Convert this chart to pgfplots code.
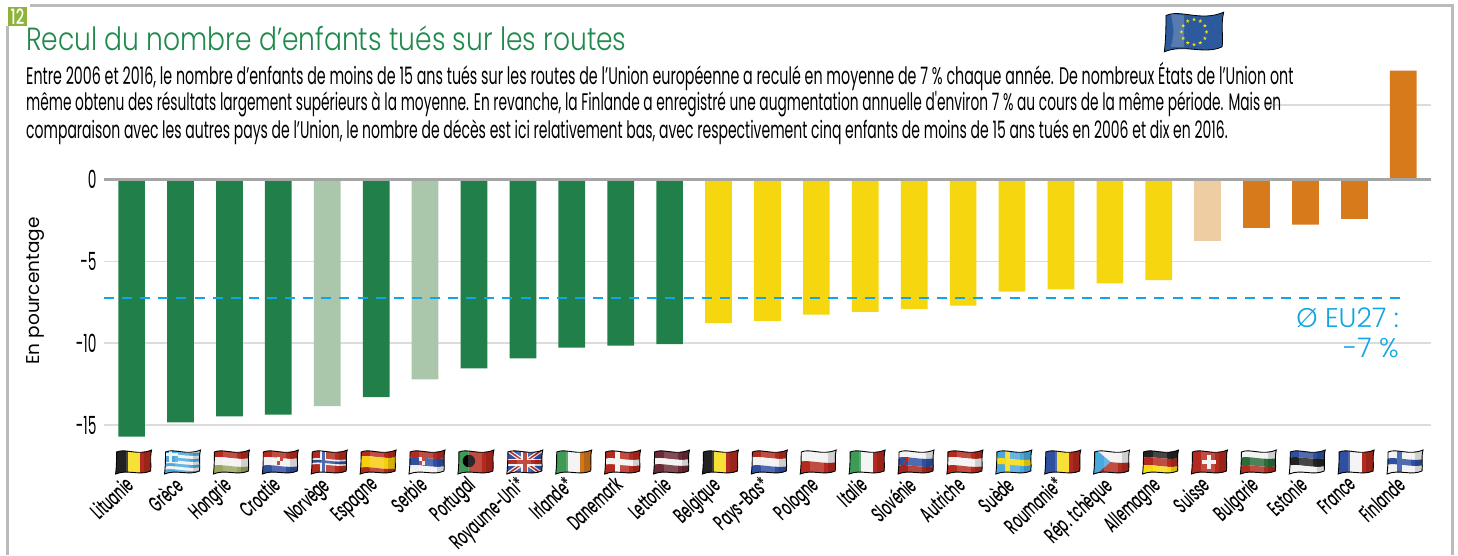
\documentclass[border=0pt]{standalone}
\usepackage{graphicx}
\usepackage{pgfplots}
\pgfplotsset{compat=1.18}
\usepackage{fontspec}
\usetikzlibrary{shapes.geometric}
\setmainfont{Poppins}
\newfontfamily\titlef[FakeStretch=0.83]{Poppins Light}
\newfontfamily\bodyf[FakeStretch=0.55]{Poppins}
\newfontfamily\lightf{Poppins Light}
\newfontfamily\ylf{Poppins}
\newfontfamily\labf{Poppins Medium}
\newcommand\lab[1]{\scalebox{.56}[1]{#1}}
\definecolor{cG}{HTML}{21804A}
\definecolor{cLG}{HTML}{ABC7AB}
\definecolor{cY}{HTML}{F6D60F}
\definecolor{cLO}{HTML}{EFCDA3}
\definecolor{cO}{HTML}{D67A1C}
\definecolor{cBl}{HTML}{12A5E3}
\definecolor{cGrid}{HTML}{DCDCDC}
\definecolor{cZero}{HTML}{A5A5A5}
\definecolor{cTitle}{HTML}{1F8A4C}
\definecolor{cBadge}{HTML}{8DB33B}
\definecolor{cEU}{HTML}{2C5A9C}
\definecolor{fR}{HTML}{B42A1E}
\definecolor{fDR}{HTML}{6B2A35}
\definecolor{fB}{HTML}{2F4FA0}
\definecolor{fLB}{HTML}{4AA8DE}
\definecolor{fY}{HTML}{F7DC10}
\definecolor{fGn}{HTML}{3E9A55}
\definecolor{fOl}{HTML}{9BA55C}
\definecolor{fOr}{HTML}{D0761C}
\definecolor{fW}{HTML}{F2F2F2}
\definecolor{fK}{HTML}{222222}
\def\fp{(-18,-12) .. controls (-17,-4) and (-17,4) .. (-17,10) .. controls (-8,14) and (4,6) .. (18,12) .. controls (16,4) and (18,-3) .. (17,-9) .. controls (6,-14) and (-6,-7) .. (-18,-12) -- cycle}
\newcommand\hb[3]{\fill[#1] (-20,{#3}) .. controls (-8,{#3+3}) and (4,{#3-3}) .. (20,{#3}) -- (20,{#2}) .. controls (4,{#2-3}) and (-8,{#2+3}) .. (-20,{#2}) -- cycle;}
\newcommand\vb[3]{\fill[#1] ({#2},-16) rectangle ({#3},16);}
\newcommand\flagn[2]{\begin{scope}[shift={({133.6+48.9*#1},93)}]
  \begin{scope}\clip \fp; #2
    \fill[white,opacity=.16] (-8,-16) rectangle (6,16);
    \fill[black,opacity=.14] (10,-16) rectangle (20,16);
  \end{scope}
  \draw[line width=.9pt,black] \fp;
\end{scope}}
\newcommand\threeh[3]{\hb{#1}{4}{16}\hb{#2}{-4}{4}\hb{#3}{-16}{-4}}
\newcommand\threev[3]{\vb{#1}{-20}{-6}\vb{#2}{-6}{6}\vb{#3}{6}{20}}
\newcommand\crest[2]{\fill[#1] (#2,-3) rectangle ({#2+6},5);\fill[fR] (#2,-3) rectangle ({#2+3},1);\fill[fR] ({#2+3},1) rectangle ({#2+6},5);}
\pgfplotstableread{
i v
0 -15.71
1 -14.83
2 -14.47
3 -14.37
5 -13.29
7 -11.53
8 -10.92
9 -10.27
10 -10.15
11 -10.05
}\tG
\pgfplotstableread{
i v
4 -13.85
6 -12.21
}\tLG
\pgfplotstableread{
i v
12 -8.77
13 -8.64
14 -8.26
15 -8.08
16 -7.91
17 -7.71
18 -6.85
19 -6.71
20 -6.34
21 -6.14
}\tY
\pgfplotstableread{
i v
22 -3.74
}\tLO
\pgfplotstableread{
i v
23 -2.96
24 -2.76
25 -2.41
26 6.65
}\tO
\begin{document}
\begin{tikzpicture}[x=1pt,y=1pt]
\path[use as bounding box] (0,0) rectangle (1458,555);
\fill[white] (0,0) rectangle (1458,555);
\draw[cGrid!85!black,line width=3pt] (7,0) -- (7,549.5) -- (1452,549.5) -- (1452,0);
\fill[white] (4,529) rectangle (30,552);
\fill[cBadge] (8,529) rectangle (27,548) node[pos=.5,white,font={\labf\fontsize{21}{21}\selectfont}] {\scalebox{.7}[1]{12}};
\begin{axis}[
  at={(104pt,81pt)}, anchor=south west, scale only axis,
  width=1327pt, height=414pt,
  xmin=-0.5644, xmax=26.566, ymin=-17.99, ymax=7.30,
  clip=false,
  axis line style={draw=none},
  major tick length=0pt,
  ymajorgrids, grid style={cGrid,line width=1.6pt},
  ytick={-15,-10,-5,0}, yticklabels={-15,-10,-5,0},
  yticklabel style={font=\bodyf\fontsize{25}{25}\selectfont,xshift=-4pt},
  xtick={0,...,26},
  xticklabels={\lab{Lituanie},\lab{Grèce},\lab{Hongrie},\lab{Croatie},\lab{Norvège},\lab{Espagne},\lab{Serbie},\lab{Portugal},\lab{Royaume-Uni*},\lab{Irlande*},\lab{Danemark},\lab{Lettonie},\lab{Belgique},\lab{Pays-Bas*},\lab{Pologne},\lab{Italie},\lab{Slovénie},\lab{Autriche},\lab{Suède},\lab{Roumanie*},\lab{Rép. tchèque},\lab{Allemagne},\lab{Suisse},\lab{Bulgarie},\lab{Estonie},\lab{France},\lab{Finlande}},
  xticklabel style={font=\labf\fontsize{22}{22}\selectfont,rotate=43,anchor=north east,inner sep=0pt,xshift=-6.2pt,yshift=4.7pt},
  /pgf/number format/assume math mode=true,
  ylabel={En pourcentage},
  every axis y label/.style={at={(axis description cs:-0.0515,0.442)},rotate=90,anchor=center,font=\ylf\fontsize{18.5}{19}\selectfont},
  ybar, bar width=26.7pt, bar shift=0pt,
]
\addplot[sharp plot,draw=cGrid,line width=1.6pt,forget plot] coordinates {(23.18,4.55) (26.566,4.55)};
\addplot[fill=cG,draw=none] table[x=i,y=v] {\tG};
\addplot[fill=cLG,draw=none] table[x=i,y=v] {\tLG};
\addplot[fill=cY,draw=none] table[x=i,y=v] {\tY};
\addplot[fill=cLO,draw=none] table[x=i,y=v] {\tLO};
\addplot[fill=cO,draw=none] table[x=i,y=v] {\tO};
\addplot[sharp plot,draw=cZero,line width=2.2pt,forget plot] coordinates {(-0.5644,0) (26.566,0)};
\addplot[sharp plot,draw=cBl,line width=1.6pt,dash pattern=on 10pt off 8.11pt,forget plot] coordinates {(-0.5644,-7.24) (25.94,-7.24)};
\end{axis}
% title and text
\node[anchor=base west,inner sep=0pt,text=cTitle,font=\titlef\fontsize{32}{32}\selectfont] at (26,504) {Recul du nombre d’enfants tués sur les routes};
\begin{scope}[every node/.style={anchor=base west,inner sep=0pt,font=\bodyf\fontsize{24}{24}\selectfont}]
\node at (26,470) {\scalebox{1.08}[1]{Entre 2006 et 2016, le nombre d’enfants de moins de 15 ans tués sur les routes de l’Union européenne a reculé en moyenne de 7 \% chaque année. De nombreux États de l’Union ont}};
\node at (26,444) {\scalebox{1.042}[1]{même obtenu des résultats largement supérieurs à la moyenne. En revanche, la Finlande a enregistré une augmentation annuelle d'environ 7 \% au cours de la même période. Mais en}};
\node at (26,416) {\scalebox{1.06}[1]{comparaison avec les autres pays de l’Union, le nombre de décès est ici relativement bas, avec respectivement cinq enfants de moins de 15 ans tués en 2006 et dix en 2016.}};
\end{scope}
\node[anchor=base east,inner sep=0pt,text=cBl,font=\lightf\fontsize{27}{27}\selectfont] at (1399,228) {Ø EU27 :};
\node[anchor=base east,inner sep=0pt,text=cBl,font=\lightf\fontsize{27}{27}\selectfont] at (1399,198) {-7 \%};
% EU flag
\begin{scope}[shift={(1194,523)},scale=1.65]
\fill[cEU] \fp; \fill[white,opacity=.2] (-14,-9) .. controls (-12,0) .. (-14,11) -- (-6,10) -- (-6,-9) -- cycle;
\draw[line width=.8pt] \fp;
\foreach \a in {0,30,...,330}{\node[star,star points=5,star point ratio=2.4,fill=fY,inner sep=0pt,minimum size=4pt] at (\a:7.6) {};}
\end{scope}
% flags
\flagn{0}{\threev{fK}{fY}{fR}}
\flagn{1}{\fill[fLB] (-20,-16) rectangle (20,16); \foreach \y in {-8,-2,4,10}{\hb{fW}{\y}{\y+3}} \fill[fLB] (-20,0) rectangle (-5,16); \fill[fW] (-20,6) rectangle (-5,9); \fill[fW] (-13.5,0) rectangle (-10.5,16);}
\flagn{2}{\threeh{fR}{fW}{fOl}}
\flagn{3}{\threeh{fR}{fW}{fB}\crest{fW}{-3}}
\flagn{4}{\fill[fR] (-20,-16) rectangle (20,16); \hb{fW}{-3}{3}\vb{fW}{-9}{-3}\hb{fB}{-1.3}{1.3}\vb{fB}{-7.3}{-4.7}}
\flagn{5}{\hb{fR}{5}{16}\hb{fY!85!orange}{-6}{5}\hb{fR}{-16}{-6}}
\flagn{6}{\threeh{fR}{fB}{fW}\crest{fW}{-8}}
\flagn{7}{\vb{fGn}{-20}{-7}\vb{fR}{-7}{20}\fill[black] (-7,1) circle (6.2);}
\flagn{8}{\fill[fB] (-20,-16) rectangle (20,16);\draw[fW,line width=4pt] (-20,-14)--(20,14) (-20,14)--(20,-14);\draw[fR,line width=1.5pt] (-20,-14)--(20,14) (-20,14)--(20,-14);\draw[fW,line width=7pt] (0,-16)--(0,16) (-20,0)--(20,0);\draw[fR,line width=4pt] (0,-16)--(0,16) (-20,0)--(20,0);}
\flagn{9}{\threev{fGn}{fW}{fOr}}
\flagn{10}{\fill[fR] (-20,-16) rectangle (20,16);\hb{fW}{-3}{3}\vb{fW}{-8}{-3}}
\flagn{11}{\hb{fDR}{3}{16}\hb{fW}{-3}{3}\hb{fDR}{-16}{-3}}
\flagn{12}{\threev{fK}{fY}{fR}}
\flagn{13}{\threeh{fR}{fW}{fB}}
\flagn{14}{\hb{fW}{0}{16}\hb{fR}{-16}{0}}
\flagn{15}{\threev{fGn}{fW}{fR}}
\flagn{16}{\threeh{fW}{fB}{fR!90!black}\crest{fB}{-13}}
\flagn{17}{\threeh{fR}{fW}{fR}}
\flagn{18}{\fill[fLB] (-20,-16) rectangle (20,16);\hb{fY}{-3}{3}\vb{fY}{-9}{-4}}
\flagn{19}{\threev{fB}{fY}{fR}}
\flagn{20}{\hb{fW}{0}{16}\hb{fR}{-16}{0}\fill[fLB] (-20,16) -- (-1,0) -- (-20,-16) -- cycle;}
\flagn{21}{\threeh{fK}{fR}{fY}}
\flagn{22}{\fill[fR] (-20,-16) rectangle (20,16);\fill[fW] (-2,-7) rectangle (2,7);\fill[fW] (-7,-2) rectangle (7,2);}
\flagn{23}{\threeh{fW}{fGn!70!black}{fR}}
\flagn{24}{\threeh{fB}{fK}{fW}}
\flagn{25}{\threev{fB}{fW}{fR}}
\flagn{26}{\fill[fW] (-20,-16) rectangle (20,16);\hb{fB}{-3}{3}\vb{fB}{-8}{-3}}
\end{tikzpicture}
\end{document}
